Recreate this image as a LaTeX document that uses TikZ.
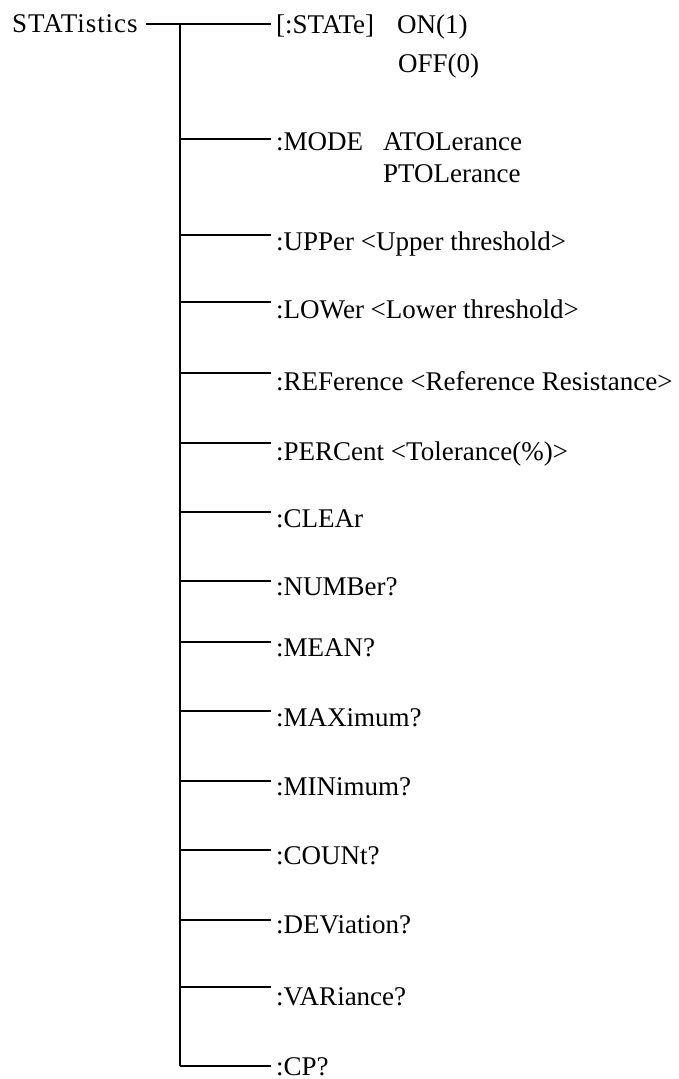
\documentclass[tikz,border=0pt]{standalone}
\usepackage{fontspec}
\setmainfont{Liberation Serif}
\newfontfamily\spacedserif[LetterSpace=3.5]{Liberation Serif}
\begin{document}
\begin{tikzpicture}[x=1pt,y=-1pt,
  lbl/.style={inner sep=0pt, anchor=base west, font=\fontsize{27}{30}\selectfont},
  conn/.style={line width=1.4pt}]
\useasboundingbox (0,0) rectangle (679,1079);
\node[lbl, font=\fontsize{27}{30}\spacedserif] (root) at (12,32) {STATistics};
\coordinate (top) at (180,24);
\coordinate (bot) at (180,1066);
\draw[conn] (top) -- (bot);
\draw[conn] ([xshift=8pt]root.east |- top) -- (top);
\foreach \n/\ly/\by/\t in {
  s1/24/33/{[:STATe]},
  s2/139/150/{:MODE},
  s3/235/250/{:UPPer <Upper threshold>},
  s4/302/318/{:LOWer <Lower threshold>},
  s5/373/390/{:REFerence <Reference Resistance>},
  s6/443/460/{:PERCent <Tolerance(\%)>},
  s7/512/527/{:CLEAr},
  s8/581/595/{:NUMBer?},
  s9/642/656/{:MEAN?},
  s10/711/726/{:MAXimum?},
  s11/781/795/{:MINimum?},
  s12/850/864/{:COUNt?},
  s13/920/933/{:DEViation?},
  s14/987/1005/{:VARiance?},
  s15/1066/1075/{:CP?}}{
  \coordinate (j\n) at (180,\ly);
  \node[lbl] (\n) at (276,\by) {\t};
  \draw[conn] (j\n) -- ([xshift=-5pt]\n.west |- j\n);
}
\node[lbl] (on) at (397,33) {ON(1)};
\node[lbl] (off) at (398,72) {OFF(0)};
\node[lbl] (ato) at (383,150) {ATOLerance};
\node[lbl] (pto) at (383,182) {PTOLerance};
\end{tikzpicture}
\end{document}
